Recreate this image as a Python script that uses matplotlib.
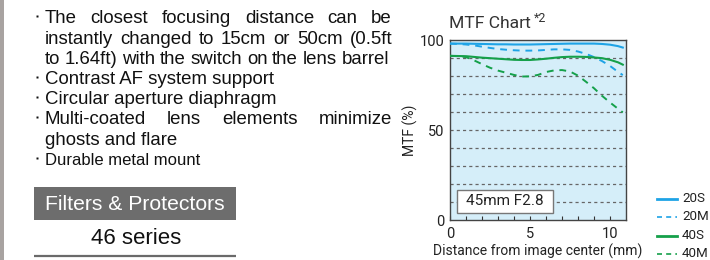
import matplotlib
matplotlib.use("Agg")
import matplotlib.pyplot as plt
from matplotlib.patches import Rectangle
from matplotlib.lines import Line2D

# ---------------- data ----------------
x_mm = [0, 0.5, 1, 1.5, 2, 2.5, 3, 3.5, 4, 4.5, 5, 5.5, 6, 6.5, 7, 7.5, 8, 8.5, 9, 9.5, 10, 10.5, 10.8]
mtf_20S = [98, 98, 98, 97.9, 97.8, 97.7, 97.6, 97.6, 97.5, 97.5, 97.5, 97.6, 97.7, 97.8, 97.9, 98, 98, 98, 98, 97.8, 97.4, 96.6, 95.8]
mtf_20M = [98, 97.8, 97.5, 97, 96.3, 95.6, 95, 94.6, 94.3, 94.1, 94.1, 94.2, 94.5, 94.8, 94.8, 94.5, 93.6, 92.3, 90.5, 88.3, 85.6, 82.3, 80.5]
mtf_40S = [91.2, 91.1, 91, 90.6, 90.2, 89.9, 89.6, 89.3, 89.0, 88.9, 88.9, 89.2, 89.6, 90.1, 90.5, 90.7, 90.7, 90.6, 90.3, 89.9, 89.0, 87.6, 86.3]
mtf_40M = [91.2, 91.0, 90.5, 88.7, 86.6, 84.6, 83, 81.8, 80.6, 79.7, 79.8, 80.6, 82.2, 83.1, 83.3, 82.5, 80.2, 76.8, 73.2, 69, 65.3, 61.8, 59.8]
series_names = ["20S", "20M", "40S", "40M"]
x_ticklabels = ["0", "5", "10"]
y_ticklabels = ["0", "50", "100"]
chart_title = "MTF Chart"
chart_note = "*2"
lens_label = "45mm F2.8"

BLUE = "#1ea3e6"
GREEN = "#15a04a"

# ---------------- figure ----------------
W, H = 710, 260
fig = plt.figure(figsize=(W / 100, H / 100), dpi=100)
fig.patch.set_facecolor("white")

# overlay in pixel coordinates
ov = fig.add_axes([0, 0, 1, 1])
ov.set_xlim(0, W)
ov.set_ylim(H, 0)
ov.axis("off")

# left gray strip
ov.add_patch(Rectangle((0, 0), 4, H, facecolor="#a8a3a1", edgecolor="none"))

renderer = fig.canvas.get_renderer()
TXT = "#111111"
BODY_FS = 13.4


def justify(words, x0, x1, y, fs=BODY_FS):
    objs = [ov.text(0, y, w, fontsize=fs, family="Liberation Sans", color=TXT,
                    va="baseline", ha="left") for w in words]
    widths = [o.get_window_extent(renderer).width for o in objs]
    gap = (x1 - x0 - sum(widths)) / (len(words) - 1)
    x = x0
    for o, w in zip(objs, widths):
        o.set_x(x)
        x += w + gap


def plain(s, x0, y, fs=BODY_FS):
    ov.text(x0, y, s, fontsize=fs, family="Liberation Sans", color=TXT,
            va="baseline", ha="left")


def bullet(y):
    ov.plot([37], [y - 7], marker="s", ms=2.0, color=TXT, mec="none")


X0 = 45
justify("The closest focusing distance can be".split(), X0, 392, 23.3)
bullet(23.3)
justify("instantly changed to 15cm or 50cm (0.5ft".split(), X0, 392, 43.5)
justify("to 1.64ft) with the switch on the lens barrel".split(), X0, 389, 63.8)
plain("Contrast AF system support", X0, 84)
bullet(84)
plain("Circular aperture diaphragm", X0, 104.2)
bullet(104.2)
justify("Multi-coated lens elements minimize".split(), X0, 392, 124.4)
bullet(124.4)
plain("ghosts and flare", X0, 144.6)
plain("Durable metal mount", X0, 164.8, fs=12.0)
bullet(164.8)

# Filters & Protectors box
ov.add_patch(Rectangle((34, 187), 202, 33, facecolor="#6d6d6d", edgecolor="none"))
ov.text(135, 204.5, "Filters & Protectors", fontsize=15.2, family="Liberation Sans",
        color="white", ha="center", va="center")
ov.text(136, 239, "46 series", fontsize=16, family="Liberation Sans",
        color=TXT, ha="center", va="center")
ov.plot([34, 236], [255.5, 255.5], color="#6a6a6a", lw=1.6, solid_capstyle="butt")

# ---------------- MTF chart ----------------
CF = "Roboto"
left, right, top, bottom = 450, 626, 40, 220
ax = fig.add_axes([left / W, 1 - bottom / H, (right - left) / W, (bottom - top) / H])
ax.set_facecolor("#d5eef9")
ax.set_xlim(0, 11)
ax.set_ylim(0, 100)
for sp in ax.spines.values():
    sp.set_color("#444444")
    sp.set_linewidth(1.0)

for gy in range(10, 100, 10):
    ax.axhline(gy, color="#666666", lw=0.9, dashes=(2.5, 2.5), zorder=1)

ax.plot(x_mm, mtf_20S, color=BLUE, lw=1.5, zorder=3)
ax.plot(x_mm, mtf_20M, color=BLUE, lw=1.4, dashes=(3.5, 3), zorder=3)
ax.plot(x_mm, mtf_40S, color=GREEN, lw=1.5, zorder=3)
ax.plot(x_mm, mtf_40M, color=GREEN, lw=1.4, dashes=(3.5, 3), zorder=3)

ax.set_xticks([0, 5, 10])
ax.set_xticklabels(x_ticklabels, fontsize=10.5, family=CF, color="#222222")
ax.set_xticks(range(0, 11), minor=True)
ax.tick_params(axis="x", which="both", direction="in", length=3, width=0.8,
               color="#333333", pad=5)
ax.set_yticks([0, 50, 100])
ax.set_yticklabels(y_ticklabels, fontsize=10.5, family=CF, color="#222222")
ax.tick_params(axis="y", length=0, pad=4)

ax.set_ylabel("MTF (%)", fontsize=10, family=CF, color="#222222", labelpad=1)
ax.set_xlabel("Distance from image center (mm)", fontsize=10, family=CF,
              color="#222222", labelpad=2)

# lens label box
ax.add_patch(Rectangle((0.04, 0.04), 0.545, 0.128, transform=ax.transAxes,
                       facecolor="white", edgecolor="#777777", lw=1.0, zorder=4))
ax.text(0.312, 0.104, lens_label, transform=ax.transAxes, fontsize=11, family=CF,
        color="#222222", ha="center", va="center", zorder=5)

# title
t = ov.text(449, 27.5, chart_title, fontsize=12.6, family=CF, color="#333333",
            ha="left", va="baseline")
tw = t.get_window_extent(renderer).width
ov.text(449 + tw + 3, 21.5, chart_note, fontsize=9, family=CF, color="#333333",
        ha="left", va="baseline")

# legend
leg_styles = [(BLUE, None), (BLUE, (3, 2.5)), (GREEN, None), (GREEN, (3, 2.5))]
leg_y = [198.5, 217, 235.5, 253.5]
for name, (c, d), yy in zip(series_names, leg_styles, leg_y):
    kw = dict(color=c, lw=2.0 if d is None else 1.2)
    if d is not None:
        kw["dashes"] = d
    ov.add_line(Line2D([657, 677], [yy, yy], **kw))
    ov.text(682, yy, name, fontsize=9.6, family=CF, color="#222222",
            ha="left", va="center")

fig.savefig("out.png", dpi=100)
